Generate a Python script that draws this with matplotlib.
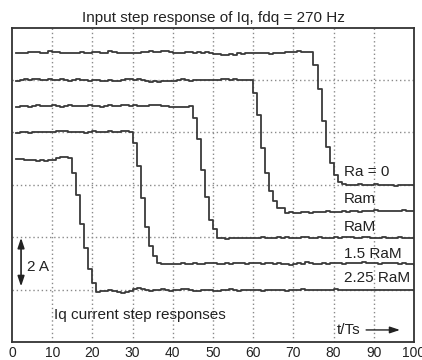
import matplotlib
matplotlib.use("Agg")
import matplotlib.pyplot as plt
import numpy as np

plt.rcParams['font.family'] = ['Liberation Sans', 'DejaVu Sans']

# time axis in samples t/Ts
t = np.arange(1, 101)

# Ra = 0 trace (current in A, vertical offset per trace)
ra0_pre = [11.02, 11.02, 11.04, 11.08, 11.06, 11.08, 11.04, 11.04, 11.10, 11.08,
           11.06, 11.04, 11.04, 11.02, 11.02, 11.04, 11.08, 11.04, 11.02, 11.06,
           11.08, 11.02, 11.04, 11.10, 11.06, 11.04, 11.04, 11.04, 11.02, 11.04,
           11.04, 11.08, 11.06, 11.10, 11.06, 11.08, 11.12, 11.10, 11.06, 11.04,
           11.04, 11.02, 11.06, 11.08, 11.04, 11.06, 11.02, 11.06, 11.02, 10.98,
           10.98, 10.94, 10.96, 11.00, 10.96, 11.04, 11.00, 11.04, 11.02, 11.04,
           11.02, 11.02, 11.04, 11.00, 11.04, 11.02, 11.04, 11.06, 11.08, 11.06,
           11.10, 11.08, 11.08, 11.06]
ra0_drop = [10.58, 9.66, 8.44, 7.44, 6.82, 6.38, 6.12]
ra0_post = [6.04, 6.00, 6.00, 5.98, 6.02, 6.00, 5.98, 6.00, 6.02, 5.98,
            5.98, 6.00, 5.98, 5.96, 5.98, 5.98, 6.00, 5.98, 5.98]

# Ram trace
ram_pre = [9.98, 10.00, 10.04, 10.02, 10.06, 10.04, 10.00, 10.02, 10.04, 10.00,
           10.02, 10.04, 10.00, 9.98, 10.02, 10.04, 10.00, 10.00, 9.98, 10.02,
           10.00, 9.98, 9.98, 10.00, 9.96, 9.98, 10.00, 10.04, 10.06, 10.02,
           10.04, 10.00, 9.96, 9.94, 9.96, 9.94, 9.96, 9.98, 9.96, 9.98,
           10.00, 10.04, 10.02, 9.98, 10.00, 10.00, 10.00, 10.02, 10.00, 10.00,
           10.00, 10.04, 10.06, 10.02, 10.04, 10.02, 10.02, 10.00, 10.00]
ram_drop = [9.52, 8.66, 7.42, 6.44, 5.76, 5.40, 5.12, 5.12]
ram_post = [4.94, 4.96, 4.92, 4.94, 4.96, 4.96, 4.94, 4.98, 4.96, 4.96,
            5.00, 4.98, 4.96, 4.98, 5.00, 4.98, 5.02, 5.00, 4.98, 5.02,
            5.00, 5.00, 5.04, 5.00, 5.02, 5.00, 5.02, 5.02, 5.00, 5.04,
            5.02, 5.00, 5.00]

# RaM trace
raM_pre = [8.98, 9.00, 9.02, 8.98, 9.00, 9.04, 9.02, 9.00, 9.02, 9.04,
           9.00, 8.98, 9.02, 9.04, 9.02, 9.00, 9.00, 9.02, 9.04, 9.00,
           9.00, 8.98, 9.00, 9.04, 9.02, 9.02, 9.04, 9.06, 9.02, 9.04,
           9.02, 9.00, 9.00, 9.04, 9.06, 9.04, 9.02, 9.00, 8.98, 8.96,
           8.98, 8.96, 8.98, 9.00]
raM_drop = [8.56, 7.74, 6.56, 5.52, 4.66, 4.32]
raM_post = [3.98, 3.96, 3.94, 3.96, 3.98, 3.96, 3.98, 3.98, 3.96, 3.98,
            3.98, 4.00, 3.98, 3.98, 3.96, 4.00, 3.98, 4.00, 3.98, 3.96,
            3.98, 4.00, 4.02, 3.98, 3.98, 4.00, 3.98, 3.96, 3.98, 4.00,
            3.98, 4.00, 4.02, 4.00, 3.98, 3.98, 4.00, 4.02, 3.98, 3.96,
            3.98, 4.00, 3.98, 3.96, 3.98, 4.00, 3.98, 3.96, 3.98, 3.98]

# 1.5 RaM trace
raM15_pre = [7.98, 8.00, 8.00, 7.98, 8.00, 8.02, 8.00, 8.02, 8.00, 8.00,
             8.04, 8.06, 8.04, 8.00, 8.00, 8.02, 8.00, 7.98, 8.02, 8.04,
             8.02, 8.00, 8.02, 8.04, 8.00, 8.02, 8.04, 8.04, 8.02]
raM15_drop = [7.58, 6.72, 5.48, 4.40, 3.68, 3.30, 3.02]
raM15_post = [2.98, 2.96, 2.98, 2.96, 2.98, 3.00, 2.98, 2.98, 3.00, 2.98,
              2.98, 3.00, 3.02, 3.00, 2.98, 2.98, 3.00, 2.98, 3.00, 3.02,
              3.00, 2.98, 3.00, 3.02, 3.00, 2.98, 3.00, 3.00, 2.98, 3.00,
              2.98, 2.96, 2.94, 2.98, 3.00, 2.98, 3.04, 3.00, 2.98, 2.98,
              3.00, 2.98, 3.00, 3.02, 3.00, 2.98, 3.00, 3.02, 3.00, 3.02,
              3.04, 3.00, 3.02, 3.00, 2.98, 3.00, 3.02, 3.00, 3.00, 2.98,
              3.00, 2.98, 2.98, 2.94]

# 2.25 RaM trace
raM225_pre = [6.98, 6.98, 6.96, 6.94, 6.94, 6.92, 6.94, 6.92, 6.94, 6.96,
              7.04, 7.06, 7.06, 7.02]
raM225_drop = [6.46, 5.60, 4.50, 3.58, 2.78, 2.26]
raM225_post = [1.92, 1.94, 1.96, 1.98, 1.96, 1.92, 1.88, 1.90, 1.94, 2.04,
               2.06, 2.02, 2.00, 1.94, 1.98, 2.00, 2.04, 1.98, 1.96, 2.00,
               1.98, 2.02, 2.04, 2.00, 1.96, 1.94, 1.98, 2.00, 1.98, 1.94,
               1.96, 1.98, 2.00, 2.02, 1.98, 1.96, 1.98, 2.00, 1.98, 2.00,
               1.98, 1.96, 1.98, 2.00, 1.98, 2.00, 1.98, 1.96, 1.98, 1.98,
               2.00, 2.02, 2.00, 1.98, 1.98, 2.00, 1.98, 1.98, 2.00, 2.02,
               2.00, 1.98, 1.98, 2.00, 1.98, 2.00, 2.00, 1.98, 2.00, 2.00,
               1.98, 1.98, 2.00, 2.00, 1.98, 2.00, 1.98, 2.00, 1.98, 1.98]

traces = [
    ra0_pre + ra0_drop + ra0_post,
    ram_pre + ram_drop + ram_post,
    raM_pre + raM_drop + raM_post,
    raM15_pre + raM15_drop + raM15_post,
    raM225_pre + raM225_drop + raM225_post,
]
trace_labels = ["Ra = 0", "Ram", "RaM", "1.5 RaM", "2.25 RaM"]
label_y = [6.5, 5.46, 4.38, 3.36, 2.43]
x_ticks = [0, 10, 20, 30, 40, 50, 60, 70, 80, 90, 100]

fig = plt.figure(figsize=(4.22, 3.60), dpi=100)
ax = fig.add_axes([12/422, 18/360, 402/422, 314.3/360])

line_col = '#3a3a3a'
for tr in traces:
    ax.plot(t, tr, drawstyle='steps-post', color=line_col, lw=1.3)

ax.set_xlim(0, 100)
ax.set_ylim(0, 12)
ax.set_xticks(x_ticks)
ax.set_xticklabels([str(v) for v in x_ticks], fontsize=10, color='#222222')
ax.set_yticks([2, 4, 6, 8, 10])
ax.tick_params(axis='x', length=0, pad=3)
ax.tick_params(axis='y', length=0, labelleft=False)

# dotted grid
for gx in range(10, 100, 10):
    ax.axvline(gx, color='#8a8a8a', lw=1.0, ls=(0, (1, 2)), zorder=0)
for gy in [2, 4, 6, 8, 10]:
    ax.axhline(gy, color='#8a8a8a', lw=1.0, ls=(0, (1, 2)), zorder=0)

for s in ax.spines.values():
    s.set_color('#333333')
    s.set_linewidth(1.3)

for lab, ly in zip(trace_labels, label_y):
    ax.text(82.5, ly, lab, fontsize=11, color='#222222', va='center', ha='left')

ax.text(10.5, 1.03, "Iq current step responses", fontsize=11, color='#222222',
        va='center', ha='left')
ax.text(80.9, 0.46, "t/Ts", fontsize=11, color='#222222', va='center', ha='left')
ax.annotate("", xy=(97.2, 0.46), xytext=(87.4, 0.46),
            arrowprops=dict(arrowstyle='-|>,head_length=0.6,head_width=0.2',
                            color='#222222', lw=1.0))

# 2 A scale arrow
ax.annotate("", xy=(2.25, 3.98), xytext=(2.25, 2.12),
            arrowprops=dict(arrowstyle='<|-|>,head_length=0.6,head_width=0.2',
                            color='#222222', lw=1.2, shrinkA=0, shrinkB=0))
ax.text(3.7, 2.87, "2 A", fontsize=11, color='#222222', va='center', ha='left')

ax.set_title("Input step response of Iq, fdq = 270 Hz", fontsize=11,
             color='#222222', pad=4)

fig.savefig("out.png", dpi=100)
